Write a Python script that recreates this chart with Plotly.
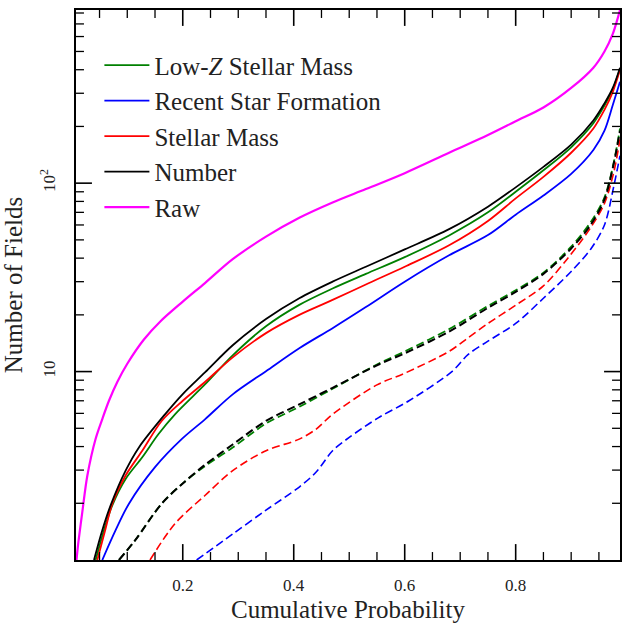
import plotly.graph_objects as go

# ---------------- data ----------------
x_raw = [0.0085, 0.012, 0.019, 0.028, 0.043, 0.055, 0.067, 0.082, 0.1, 0.13, 0.16, 0.2, 0.24,
         0.29, 0.35, 0.41, 0.47, 0.53, 0.6, 0.68, 0.75, 0.8, 0.85, 0.9, 0.94, 0.96, 0.975, 0.983, 0.988]
y_raw = [1.0, 1.25, 1.8, 2.8, 4.4, 5.6, 7.0, 8.8, 11.0, 14.8, 18.5, 23.5, 29.5,
         39.5, 52, 65.5, 79, 93, 113, 145, 180, 213, 252, 320, 410, 500, 620, 735, 830]

x_num = [0.040, 0.055, 0.07, 0.097, 0.121, 0.168, 0.2, 0.24, 0.29, 0.35, 0.41, 0.47, 0.53, 0.6,
         0.68, 0.75, 0.8, 0.85, 0.9, 0.94, 0.96, 0.975, 0.988]
y_num = [1.0, 1.44, 1.95, 2.98, 3.96, 5.93, 7.6, 9.9, 13.8, 19.0, 24.5, 30, 36, 44.5,
         57, 75, 95, 122, 160, 215, 265, 320, 410]

x_lowz = [0.043, 0.058, 0.073, 0.097, 0.127, 0.156, 0.186, 0.24, 0.29, 0.35, 0.41, 0.47, 0.53, 0.6,
          0.68, 0.75, 0.8, 0.85, 0.9, 0.94, 0.96, 0.975, 0.988]
y_lowz = [1.0, 1.44, 1.95, 2.69, 3.51, 4.65, 5.93, 8.54, 12.2, 17.4, 22.6, 27.6, 33, 40.5,
          52.8, 70, 90, 117, 155, 208, 258, 315, 405]

x_mass = [0.046, 0.061, 0.073, 0.097, 0.127, 0.162, 0.2, 0.24, 0.29, 0.35, 0.41, 0.47, 0.53, 0.6,
          0.68, 0.75, 0.8, 0.85, 0.9, 0.94, 0.96, 0.975, 0.988]
y_mass = [1.0, 1.47, 1.99, 2.81, 3.80, 5.47, 7.0, 8.8, 11.9, 16.0, 20, 24, 29, 36,
          46.8, 63, 83, 108, 145, 195, 245, 305, 400]

x_sf = [0.055, 0.079, 0.103, 0.15, 0.198, 0.24, 0.29, 0.35, 0.41, 0.47, 0.53, 0.6, 0.68,
        0.75, 0.8, 0.85, 0.9, 0.94, 0.96, 0.975, 0.988]
y_sf = [1.0, 1.44, 1.99, 3.11, 4.38, 5.58, 7.57, 10.05, 13.3, 17, 22, 30, 41.4,
        53, 68, 86, 112, 150, 190, 260, 345]

# dashed series
x_num_d = [0.085, 0.114, 0.162, 0.2, 0.24, 0.29, 0.35, 0.41, 0.47, 0.55, 0.6, 0.68, 0.75, 0.8,
           0.85, 0.9, 0.935, 0.96, 0.977, 0.988]
y_num_d = [1.0, 1.27, 1.99, 2.55, 3.2, 4.1, 5.47, 6.7, 8.2, 10.8, 12.5, 16.3, 21.8, 26.5,
           33, 45, 60, 82, 128, 190]
x_lowz_d = x_num_d
y_lowz_d = [1.0, 1.27, 1.99, 2.55, 3.15, 3.95, 5.3, 6.5, 8.1, 10.9, 12.8, 16.8, 22.3, 27,
            33.5, 46, 62, 84, 130, 195]
x_mass_d = [0.141, 0.186, 0.24, 0.29, 0.35, 0.41, 0.44, 0.47, 0.55, 0.6, 0.68, 0.714, 0.75, 0.8,
            0.85, 0.894, 0.935, 0.96, 0.977, 0.988]
y_mass_d = [1.0, 1.56, 2.2, 2.98, 3.8, 4.38, 4.94, 5.93, 8.5, 9.8, 12.8, 15.1, 18.0, 22.5,
            28.5, 40, 58, 78, 115, 171]
x_sf_d = [0.225, 0.291, 0.35, 0.41, 0.44, 0.47, 0.5, 0.553, 0.607, 0.685, 0.714, 0.75, 0.8,
          0.85, 0.9, 0.936, 0.96, 0.977, 0.988]
y_sf_d = [1.0, 1.38, 1.84, 2.44, 2.92, 3.8, 4.47, 5.7, 6.98, 10, 12.3, 14.5, 18,
          24.5, 34, 45, 60, 97, 140]

names = ["Low-<i>Z</i> Stellar Mass", "Recent Star Formation", "Stellar Mass", "Number", "Raw"]
x_tickvals = [0.2, 0.4, 0.6, 0.8]
x_ticktext = ["0.2", "0.4", "0.6", "0.8"]
x_minor = [0.05, 0.1, 0.15, 0.25, 0.3, 0.35, 0.45, 0.5, 0.55, 0.65, 0.7, 0.75, 0.85, 0.9, 0.95]
y_tickvals = [10, 100]
y_ticktext = ["10", "10<sup>2</sup>"]
y_minor = [2, 3, 4, 5, 6, 7, 8, 9, 20, 30, 40, 50, 60, 70, 80, 90, 200, 300, 400, 500, 600, 700, 800]

FONT = "Liberation Serif"
XR = [0.0076, 0.988]
YR = [0, 2.919]
W, H = 624, 623
ML, MR, MT, MB = 76, 2, 10, 60
PW, PH = W - ML - MR, H - MT - MB          # plot-area size in px
MAJOR_LEN, MINOR_LEN = 16, 8               # tick lengths in px

fig = go.Figure()

def add(x, y, color, name, group, dash="solid", width=1.8, show=True):
    fig.add_trace(go.Scatter(
        x=x, y=y, mode="lines", name=name, legendgroup=group, showlegend=show,
        line=dict(color=color, width=width, dash=dash, shape="spline", smoothing=0.9),
        hoverinfo="skip"))

DASH = "8px,4px"
# dashed (not in legend)
add(x_lowz_d, y_lowz_d, "#008000", names[0], "g0", DASH, 1.8, False)
add(x_sf_d, y_sf_d, "#0000FF", names[1], "g1", DASH, 1.6, False)
add(x_mass_d, y_mass_d, "#FF0000", names[2], "g2", DASH, 1.6, False)
add(x_num_d, y_num_d, "#000000", names[3], "g3", DASH, 2.0, False)
# solid
add(x_lowz, y_lowz, "#008000", names[0], "g0")
add(x_sf, y_sf, "#0000FF", names[1], "g1")
add(x_mass, y_mass, "#FF0000", names[2], "g2")
add(x_num, y_num, "#000000", names[3], "g3")
add(x_raw, y_raw, "#FF00FF", names[4], "g4", width=2.2)

# ---- inside tick marks on all four sides (pixel lengths converted to axis units) ----
def tick_segments(xvals, yvals, length):
    xs, ys = [], []
    dy = length * (YR[1] - YR[0]) / PH     # in decades
    dx = length * (XR[1] - XR[0]) / PW
    ylo, yhi = 10 ** YR[0], 10 ** YR[1]
    for v in xvals:
        xs += [v, v, None, v, v, None]
        ys += [ylo, 10 ** (YR[0] + dy), None, yhi, 10 ** (YR[1] - dy), None]
    for v in yvals:
        xs += [XR[0], XR[0] + dx, None, XR[1], XR[1] - dx, None]
        ys += [v, v, None, v, v, None]
    return xs, ys

for vals_x, vals_y, ln, lw in ((x_tickvals, y_tickvals, MAJOR_LEN, 1.6),
                               (x_minor, y_minor, MINOR_LEN, 1.3)):
    tx, ty = tick_segments(vals_x, vals_y, ln)
    fig.add_trace(go.Scatter(x=tx, y=ty, mode="lines", line=dict(color="black", width=lw),
                             showlegend=False, hoverinfo="skip", connectgaps=False))

tick_font = dict(family=FONT, size=17, color="#222")
title_font = dict(family=FONT, size=25, color="#222")

fig.update_layout(
    xaxis=dict(range=XR, showline=True, linecolor="black", linewidth=2, mirror=True,
               ticks="outside", tickcolor="rgba(0,0,0,0)", ticklen=9,
               tickmode="array", tickvals=x_tickvals, ticktext=x_ticktext, tickfont=tick_font,
               showgrid=False, zeroline=False,
               title=dict(text="Cumulative Probability", font=title_font, standoff=8)),
    yaxis=dict(type="log", range=YR, showline=True, linecolor="black", linewidth=2, mirror=True,
               ticks="outside", tickcolor="rgba(0,0,0,0)", ticklen=12,
               tickmode="array", tickvals=y_tickvals, ticktext=y_ticktext, tickangle=-90,
               tickfont=tick_font, showgrid=False, zeroline=False,
               title=dict(text="Number of Fields", font=title_font, standoff=8)),
    width=W, height=H,
    margin=dict(l=ML, r=MR, t=MT, b=MB),
    plot_bgcolor="white", paper_bgcolor="white",
    font=dict(family=FONT, color="#222"),
    showlegend=True,
    legend=dict(x=0.043, y=0.941, xanchor="left", yanchor="top",
                font=dict(family=FONT, size=25, color="#222"),
                bgcolor="rgba(0,0,0,0)", borderwidth=0,
                tracegroupgap=0, itemwidth=45, traceorder="grouped"),
)

fig.write_html("out.html", config={"displayModeBar": False},
               post_script="document.body.style.margin='0';document.body.style.overflow='hidden';")
